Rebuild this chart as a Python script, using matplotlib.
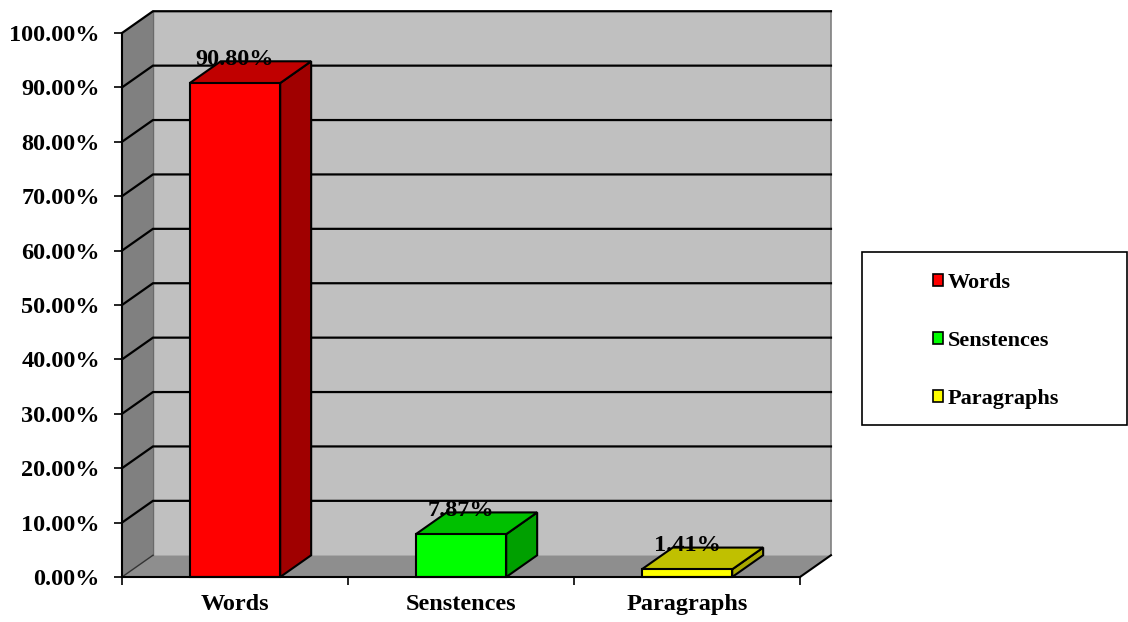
import matplotlib
matplotlib.use("Agg")
import matplotlib.pyplot as plt
from matplotlib.patches import Polygon, Rectangle, Patch

categories = ["Words", "Senstences", "Paragraphs"]
values = [90.80, 7.87, 1.41]
labels = ["90.80%", "7.87%", "1.41%"]
yticks = [0, 10, 20, 30, 40, 50, 60, 70, 80, 90, 100]

front_cols = ["#FF0000", "#00FF00", "#FFFF00"]
top_cols = ["#C00000", "#00C000", "#C0C000"]
side_cols = ["#A00000", "#00A000", "#A8A800"]

plt.rcParams["font.family"] = ["Liberation Serif", "DejaVu Serif"]
plt.rcParams["font.weight"] = "bold"

W, H = 1128, 622
fig = plt.figure(figsize=(W / 100, H / 100), dpi=100)
ax = fig.add_axes([122 / W, (H - 577) / H, (800 - 122) / W, (577 - 33) / H])
ax.set_facecolor("none")

n = len(categories)
dx, dy = 0.137, 4.0   # depth offset of the 3-D box
bw = 0.4
fs = 17.5

ax.set_xlim(0, n)
ax.set_ylim(0, 100)

# walls and floor
ax.add_patch(Polygon([(dx, dy), (n + dx, dy), (n + dx, 100 + dy), (dx, 100 + dy)],
                     closed=True, fc="#C0C0C0", ec="none", clip_on=False, zorder=0))
ax.add_patch(Polygon([(0, 0), (dx, dy), (dx, 100 + dy), (0, 100)],
                     closed=True, fc="#808080", ec="none", clip_on=False, zorder=0))
ax.add_patch(Polygon([(0, 0), (n, 0), (n + dx, dy), (dx, dy)],
                     closed=True, fc="#8E8E8E", ec="none", clip_on=False, zorder=0))
ax.plot([n + dx, n + dx], [dy, 100 + dy], color="#808080", lw=1.2, clip_on=False, zorder=1)
ax.plot([dx, dx], [dy, 100 + dy], color="#6A6A6A", lw=1.0, clip_on=False, zorder=1)
ax.plot([n, n + dx], [0, dy], color="black", lw=1.5, clip_on=False, zorder=1)
ax.plot([0, dx], [0, dy], color="#333333", lw=1.0, clip_on=False, zorder=1)

# gridlines on back and side walls
for v in yticks[1:]:
    ax.plot([0, dx, n + dx], [v, v + dy, v + dy], color="black", lw=1.6,
            clip_on=False, zorder=1, solid_joinstyle="miter")

# bars
for i, v in enumerate(values):
    x0 = i + 0.5 - bw / 2
    x1 = i + 0.5 + bw / 2
    ax.add_patch(Polygon([(x1, 0), (x1 + dx, dy), (x1 + dx, v + dy), (x1, v)],
                         closed=True, fc=side_cols[i], ec="black", lw=1.5,
                         clip_on=False, zorder=3))
    ax.add_patch(Polygon([(x0, v), (x1, v), (x1 + dx, v + dy), (x0 + dx, v + dy)],
                         closed=True, fc=top_cols[i], ec="black", lw=1.5,
                         clip_on=False, zorder=3))
    ax.add_patch(Rectangle((x0, 0), bw, v, fc=front_cols[i], ec="black", lw=1.5,
                           clip_on=False, zorder=4))
    ax.text(i + 0.5, v + dy + 0.3, labels[i], ha="center", va="center",
            fontsize=fs, fontweight="bold", zorder=6)

# axes
for s in ["top", "right"]:
    ax.spines[s].set_visible(False)
for s in ["left", "bottom"]:
    ax.spines[s].set_color("black")
    ax.spines[s].set_linewidth(1.5)
    ax.spines[s].set_zorder(5)

ax.set_yticks(yticks)
ax.set_yticklabels(["%.2f%%" % t for t in yticks])
ax.tick_params(axis="y", direction="out", length=5.5, width=1.2, pad=10.5,
               labelsize=fs)
ax.set_xticks(range(n + 1))
ax.set_xticklabels([])
ax.set_xticks([i + 0.5 for i in range(n)], minor=True)
ax.set_xticklabels(categories, minor=True)
ax.tick_params(axis="x", which="major", direction="out", length=5.5, width=1.2)
ax.tick_params(axis="x", which="minor", length=0, pad=12, labelsize=fs)

# legend box
fig.patches.append(Rectangle((862 / W, (H - 425) / H), 265 / W, 173 / H,
                             transform=fig.transFigure, fc="white", ec="black",
                             lw=1.2, zorder=0))
handles = [Patch(fc=c, ec="black", lw=1.2) for c in front_cols]
fig.legend(handles, categories, loc="upper left",
           bbox_to_anchor=(933 / W, (H - 273) / H), frameon=False,
           fontsize=16, handlelength=0.45, handleheight=0.45,
           handletextpad=0.2, labelspacing=1.7, borderpad=0,
           borderaxespad=0)

fig.savefig("out.png", dpi=100)
